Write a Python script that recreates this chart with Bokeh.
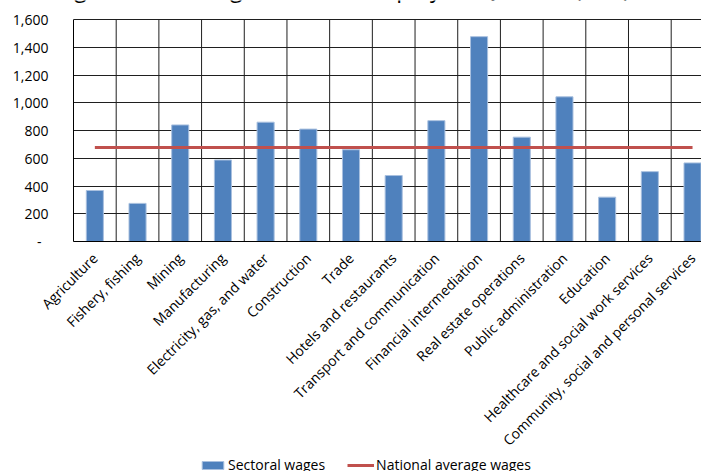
import numpy as np
from bokeh.plotting import figure
from bokeh.layouts import column
from bokeh.models import (Range1d, FixedTicker, NumeralTickFormatter, Legend,
                          LegendItem, Label)
from bokeh.embed import file_html
from bokeh.resources import INLINE

# Average wages by sector
categories = [
    "Agriculture", "Fishery, fishing", "Mining", "Manufacturing",
    "Electricity, gas, and water", "Construction", "Trade",
    "Hotels and restaurants", "Transport and communication",
    "Financial intermediation", "Real estate operations",
    "Public administration", "Education",
    "Healthcare and social work services",
    "Community, social and personal services",
]
sectoral_wages = [368, 275, 841, 588, 861, 811, 662, 476, 872, 1478, 753,
                  1044, 320, 504, 567]
national_average = 679
y_ticks = [0, 200, 400, 600, 800, 1000, 1200, 1400, 1600]

TITLE = "Average nominal wages of hired employee, Q1 2011 (GEL)"
FONT = "Open Sans"
GRID = "#1f1f1f"
BAR_FILL, BAR_EDGE = "#4F81BD", "#a9c0df"
AVG_COLOR = "#C0504D"

n = len(categories)
centers = np.arange(n) + 0.5
boundaries = np.arange(n + 1)
y_top = y_ticks[-1]
x_span = Range1d(0, 14.71)

# main chart: the frame reaches the top edge of the page; the value axis
# stops at y_top, leaving headroom above it for the title
p = figure(width=701, height=459, output_backend="svg", toolbar_location=None,
           x_range=x_span, y_range=Range1d(0, 1739),
           min_border_left=73, min_border_right=0, min_border_top=0,
           min_border_bottom=217)
p.background_fill_color = "white"
p.border_fill_color = "white"
p.outline_line_color = None

# sector separators, from the baseline up to the top of the value axis
p.segment(x0=boundaries, y0=0, x1=boundaries, y1=y_top,
          line_color=GRID, line_width=1)

bars = p.vbar(x=centers, top=sectoral_wages, width=0.4, bottom=0,
              fill_color=BAR_FILL, line_color=BAR_EDGE, line_width=1)
avg_line = p.line(x=centers, y=[national_average] * n, line_color=AVG_COLOR,
                  line_width=3)

# x axis: one label per sector
p.xaxis.ticker = FixedTicker(ticks=list(centers))
p.xaxis.major_label_overrides = {float(c): name for c, name in zip(centers, categories)}
p.xaxis.major_label_orientation = np.pi / 4
p.xaxis.major_tick_line_color = None
p.xaxis.minor_tick_line_color = None
p.xaxis.axis_line_color = "black"
p.xaxis.major_label_standoff = 8
p.xaxis.major_label_text_font = FONT
p.xaxis.major_label_text_font_size = "14px"
p.xaxis.major_label_text_color = "black"
p.xgrid.visible = False

# y axis
p.yaxis.ticker = FixedTicker(ticks=y_ticks)
p.yaxis.bounds = (0, y_top)
p.yaxis.formatter = NumeralTickFormatter(format="0,0")
p.yaxis.major_label_overrides = {0: "-\u2002"}
p.yaxis.major_tick_line_color = None
p.yaxis.minor_tick_line_color = None
p.yaxis.axis_line_color = "black"
p.yaxis.major_label_standoff = 19
p.yaxis.major_label_text_font = FONT
p.yaxis.major_label_text_font_size = "14px"
p.yaxis.major_label_text_color = "black"
p.ygrid.ticker = FixedTicker(ticks=y_ticks)
p.ygrid.grid_line_color = GRID
p.ygrid.grid_line_width = 1

title = Label(x=321 - 73, y=254, x_units="screen", y_units="screen",
              text=TITLE, text_align="center", text_baseline="alphabetic",
              text_font=FONT, text_font_size="23px", text_color="black")
p.add_layout(title)

# legend strip underneath the chart; its series lie far below its visible
# range, so only the legend entries show
leg = figure(width=701, height=12, output_backend="svg", toolbar_location=None,
             x_range=x_span, y_range=Range1d(100000, 100016),
             x_axis_location=None, y_axis_location=None, min_border=0)
leg.outline_line_color = None
leg.grid.visible = False
leg.background_fill_color = "white"
leg.border_fill_color = "white"
leg_bar = leg.vbar(x=centers, top=sectoral_wages, width=0.4, bottom=0,
                   fill_color=BAR_FILL, line_color=BAR_EDGE, line_width=1)
leg_line = leg.line(x=centers, y=[national_average] * n, line_color=AVG_COLOR,
                    line_width=3)
legend = Legend(items=[LegendItem(label="Sectoral wages", renderers=[leg_bar]),
                       LegendItem(label="National average wages", renderers=[leg_line])],
                orientation="horizontal", location=(126, -3),
                glyph_width=27, glyph_height=10, label_standoff=2, spacing=22,
                padding=0, margin=0, border_line_color=None,
                background_fill_alpha=0, label_text_font=FONT,
                label_text_font_size="14px", label_text_color="black")
leg.add_layout(legend, "center")

open("out.html", "w").write(file_html(column(p, leg, spacing=0), INLINE))
